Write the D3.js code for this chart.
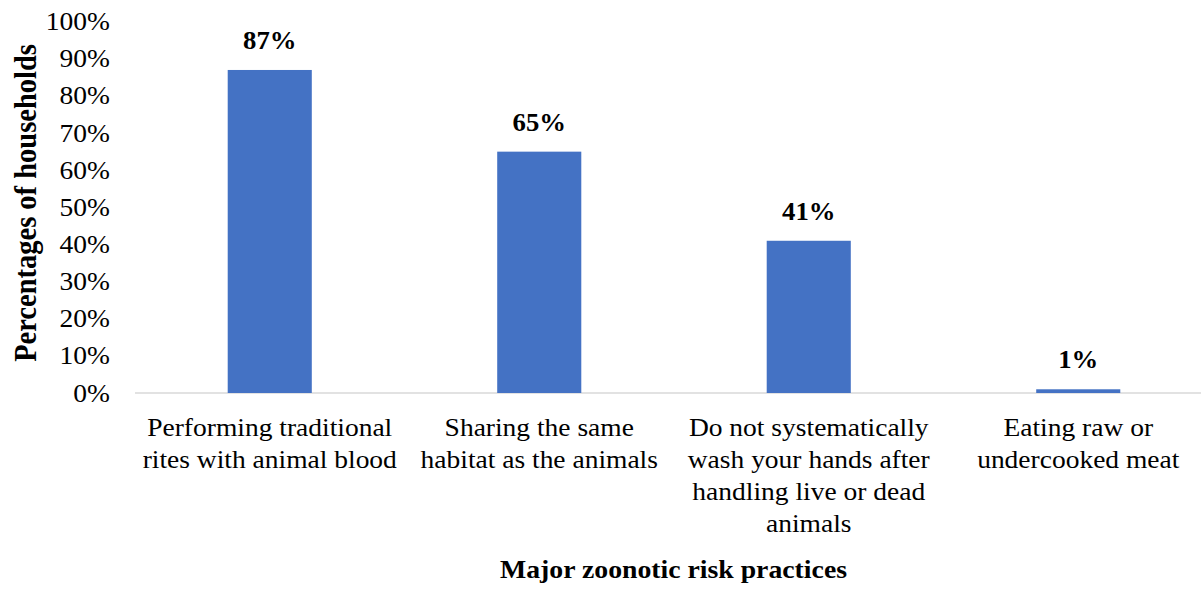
<!DOCTYPE html>
<html><head><meta charset="utf-8">
<script src="https://cdn.jsdelivr.net/npm/d3@7"></script>
<style>body{margin:0;background:#fff}svg{display:block}text{font-family:"Liberation Serif","Times New Roman",serif;fill:#000}</style>
</head><body><svg id="c" width="1201" height="592"></svg>
<script>
const categories = [
  ["Performing traditional", "rites with animal blood"],
  ["Sharing the same", "habitat as the animals"],
  ["Do not systematically", "wash your hands after", "handling live or dead", "animals"],
  ["Eating raw or", "undercooked meat"]
];
const values = [87, 65, 41, 1];
const yTicks = [0,10,20,30,40,50,60,70,80,90,100];
const yTitle = "Percentages of households";
const xTitle = "Major zoonotic risk practices";

const SX = 1.1; // horizontal stretch of the source image's text
const svg = d3.select("#c");
const x = d3.scaleBand().domain(d3.range(categories.length)).range([135, 1213]).paddingInner(0.688).paddingOuter(0.344);
const y = d3.scaleLinear().domain([0,100]).range([393, 21.7]);

// baseline
svg.append("line").attr("x1",135).attr("x2",1201).attr("y1",y(0)).attr("y2",y(0)).attr("stroke","#d9d9d9").attr("stroke-width",1.3);

// y axis labels
const ya = svg.append("g").attr("transform","translate(110,0)")
  .call(d3.axisLeft(y).tickValues(yTicks).tickFormat(d=>d+"%").tickSize(0).tickPadding(0));
ya.select(".domain").remove();
ya.selectAll(".tick").each(function(d){
  d3.select(this).attr("transform",`translate(0,${y(d)}) scale(${SX},1)`);
});
ya.selectAll("text").attr("font-size",25).attr("font-family","Liberation Serif").attr("fill","#000").attr("dy","0.34em");

// bars
svg.selectAll("rect.bar").data(values).join("rect").attr("class","bar")
  .attr("x",(d,i)=>x(i)).attr("width",x.bandwidth())
  .attr("y",d=>y(d)).attr("height",d=>y(0)-y(d)).attr("fill","#4472C4");

// value labels
svg.selectAll("text.val").data(values).join("text").attr("class","val")
  .attr("transform",(d,i)=>`translate(${x(i)+x.bandwidth()/2},${y(d)-21}) scale(1.07,1)`)
  .attr("text-anchor","middle").attr("font-weight","bold").attr("font-size",25).text(d=>d+"%");

// category labels
const lines = categories.flatMap((c,i)=>c.map((s,j)=>({s,i,j})));
svg.selectAll("text.cat").data(lines).join("text").attr("class","cat")
  .attr("transform",d=>`translate(${x(d.i)+x.bandwidth()/2},${436+d.j*32}) scale(${SX},1)`)
  .attr("text-anchor","middle").attr("font-size",25).text(d=>d.s);

// titles
svg.append("text").attr("transform","translate(673.5,578) scale(1.11,1)").attr("text-anchor","middle").attr("font-weight","bold").attr("font-size",25).text(xTitle);
svg.append("text").attr("transform","translate(36,203) scale(1.12,1) rotate(-90)").attr("text-anchor","middle").attr("font-weight","bold").attr("font-size",28.5).text(yTitle);
</script></body></html>
